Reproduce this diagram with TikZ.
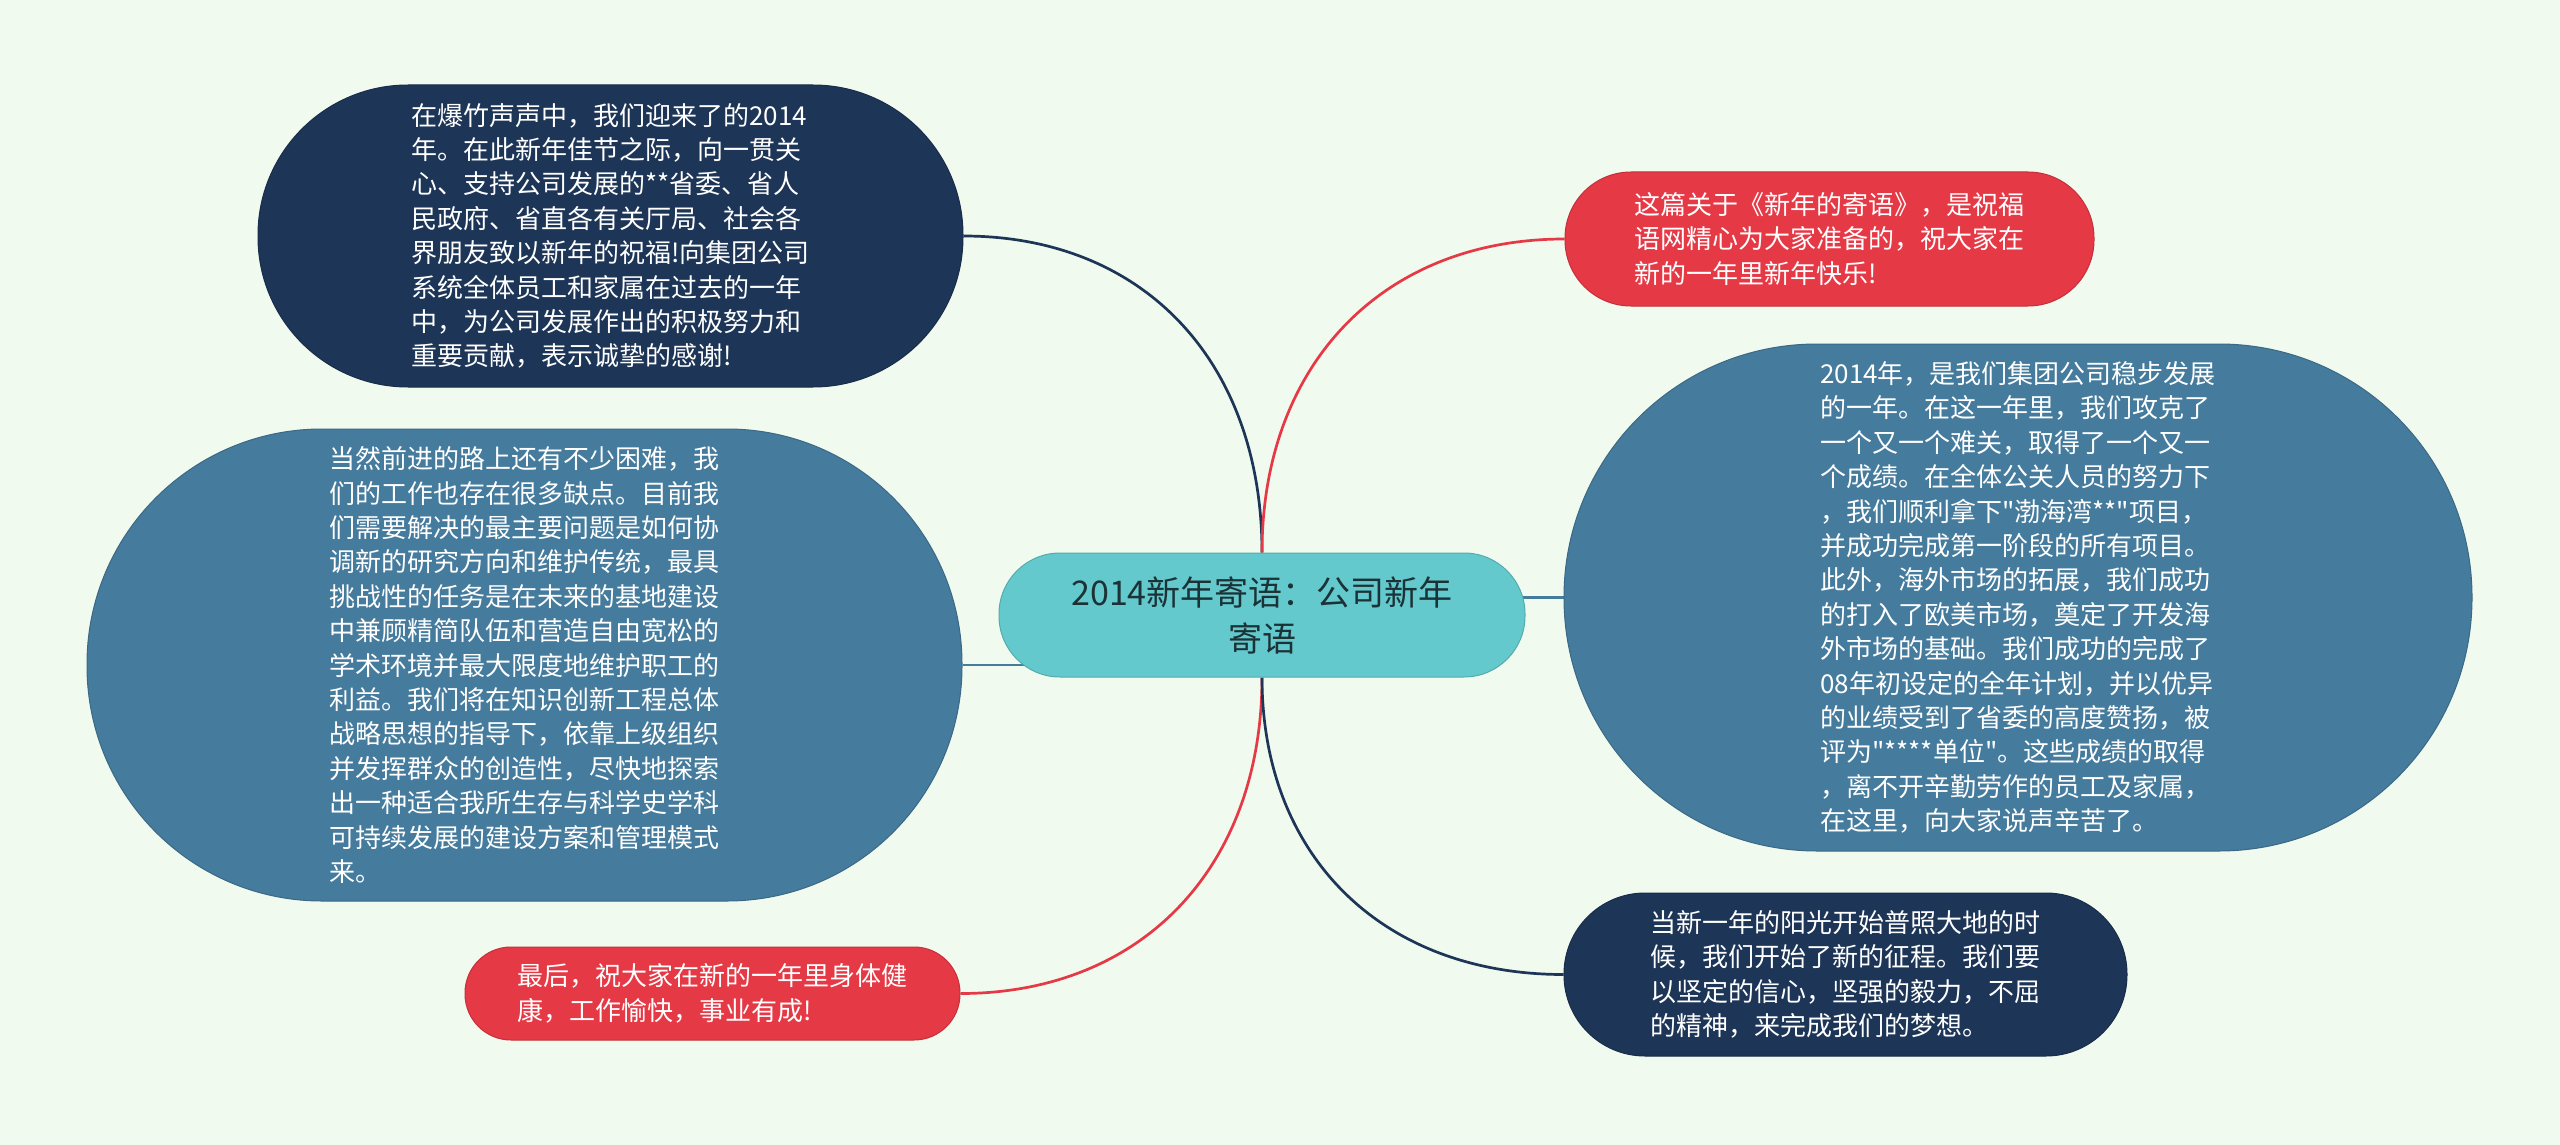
\documentclass[tikz,border=0pt]{standalone}
\usepackage{fontspec}
\setmainfont{Noto Sans CJK SC}[Ligatures=TeXOff]
\definecolor{bgc}{HTML}{F1FAEE}
\definecolor{navyc}{HTML}{1D3557}
\definecolor{redc}{HTML}{E63946}
\definecolor{bluec}{HTML}{457B9D}
\definecolor{centc}{HTML}{63C9CD}
\definecolor{centtext}{HTML}{1B3236}
\pgfdeclarelayer{bglayer}
\pgfdeclarelayer{linelayer}
\pgfsetlayers{bglayer,linelayer,main}
\begin{document}
\begin{tikzpicture}[x=0.5pt,y=-0.5pt,
  bubble/.style={rectangle, inner sep=0pt, align=left, text=white,
    font=\fontsize{13}{17.2}\selectfont, line width=0.5pt},
  navyb/.style={bubble, fill=navyc, draw=navyc!85!black},
  redb/.style={bubble, fill=redc, draw=redc!85!black},
  blueb/.style={bubble, fill=bluec, draw=bluec!85!black},
  centb/.style={rectangle, inner sep=0pt, align=center, text=centtext,
    fill=centc, draw=centc!85!black, line width=0.5pt,
    font=\fontsize{17}{23}\selectfont},
  link/.style={line width=1.35pt}
]
\useasboundingbox (0,0) rectangle (2560,1145);
\begin{pgfonlayer}{bglayer}
  \fill[bgc] (0,0) rectangle (2560,1145);
\end{pgfonlayer}

\node[centb, minimum width=263pt, minimum height=62pt, rounded corners=30.5pt] (c) at (1262,615)
  {2014新年寄语：公司新年\\寄语};

\node[navyb, minimum width=352.5pt, minimum height=151pt, rounded corners=75pt] (tl) at (610.5,236)
  {在爆竹声声中，我们迎来了的2014\\
   年。在此新年佳节之际，向一贯关\\
   心、支持公司发展的**省委、省人\\
   民政府、省直各有关厅局、社会各\\
   界朋友致以新年的祝福!向集团公司\\
   系统全体员工和家属在过去的一年\\
   中，为公司发展作出的积极努力和\\
   重要贡献，表示诚挚的感谢!};

\node[blueb, minimum width=437.5pt, minimum height=236pt, rounded corners=117.5pt] (lb) at (524.5,665)
  {当然前进的路上还有不少困难，我\\
   们的工作也存在很多缺点。目前我\\
   们需要解决的最主要问题是如何协\\
   调新的研究方向和维护传统，最具\\
   挑战性的任务是在未来的基地建设\\
   中兼顾精简队伍和营造自由宽松的\\
   学术环境并最大限度地维护职工的\\
   利益。我们将在知识创新工程总体\\
   战略思想的指导下，依靠上级组织\\
   并发挥群众的创造性，尽快地探索\\
   出一种适合我所生存与科学史学科\\
   可持续发展的建设方案和管理模式\\
   来。};

\node[redb, minimum width=247.5pt, minimum height=46.5pt, rounded corners=23pt] (bl) at (712.5,993.5)
  {最后，祝大家在新的一年里身体健\\
   康，工作愉快，事业有成!};

\node[redb, minimum width=264.5pt, minimum height=67pt, rounded corners=33pt] (tr) at (1829.5,239)
  {这篇关于《新年的寄语》，是祝福\\
   语网精心为大家准备的，祝大家在\\
   新的一年里新年快乐!};

\node[blueb, minimum width=454pt, minimum height=253.5pt, rounded corners=126.5pt] (rb) at (2018,597.5)
  {2014年，是我们集团公司稳步发展\\
   的一年。在这一年里，我们攻克了\\
   一个又一个难关，取得了一个又一\\
   个成绩。在全体公关人员的努力下\\
   ，我们顺利拿下"渤海湾**"项目，\\
   并成功完成第一阶段的所有项目。\\
   此外，海外市场的拓展，我们成功\\
   的打入了欧美市场，奠定了开发海\\
   外市场的基础。我们成功的完成了\\
   08年初设定的全年计划，并以优异\\
   的业绩受到了省委的高度赞扬，被\\
   评为"****单位"。这些成绩的取得\\
   ，离不开辛勤劳作的员工及家属，\\
   在这里，向大家说声辛苦了。};

\node[navyb, minimum width=281.5pt, minimum height=81.5pt, rounded corners=40.5pt] (br) at (1845.5,974.5)
  {当新一年的阳光开始普照大地的时\\
   候，我们开始了新的征程。我们要\\
   以坚定的信心，坚强的毅力，不屈\\
   的精神，来完成我们的梦想。};

\begin{pgfonlayer}{linelayer}
  \draw[link, navyc] (c.north) .. controls +(0,-190) and +(181,0) .. (tl.east);
  \draw[link, redc] (c.north) .. controls +(0,-188) and +(-182,0) .. (tr.west);
  \draw[link, redc] (c.south) .. controls +(0,190) and +(181,0) .. (bl.east);
  \draw[link, navyc] (c.south) .. controls +(0,179) and +(-181,0) .. (br.west);
  \draw[link, bluec] (lb.east) -- (c.center |- lb.east);
  \draw[link, bluec] (c.center |- rb.west) -- (rb.west);
\end{pgfonlayer}
\end{tikzpicture}
\end{document}
